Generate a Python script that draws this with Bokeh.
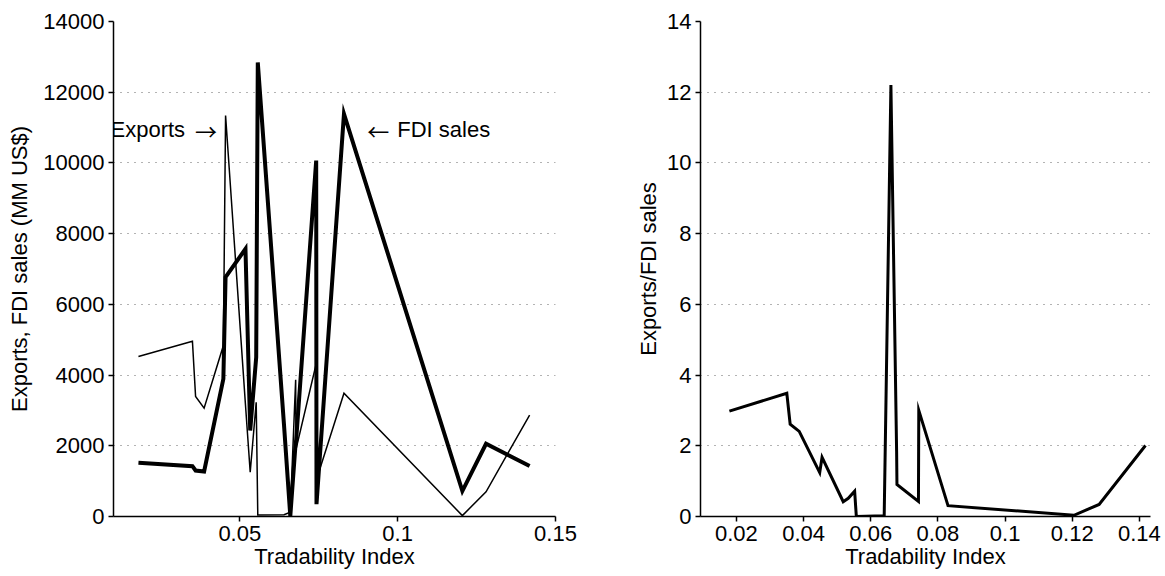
from bokeh.plotting import figure
from bokeh.layouts import row
from bokeh.models import FixedTicker, CustomJSTickFormatter, Label, Range1d
from bokeh.embed import file_html
from bokeh.resources import INLINE

# ---- data ----
tradability = [0.0179, 0.0350, 0.0360, 0.0387, 0.0448, 0.0455, 0.0518, 0.0533,
               0.0552, 0.0557, 0.0640, 0.0660, 0.0677, 0.0678, 0.0742, 0.0743,
               0.0830, 0.1205, 0.1280, 0.1418]
exports = [4525, 4958, 3394, 3063, 4836, 11340, 3160, 1253,
           3232, 40, 50, 122, 3866, 1900, 4318, 1050,
           3487, 25, 700, 2870]
fdi_sales = [1518, 1423, 1300, 1273, 3893, 6768, 7570, 2432,
             4505, 12840, 2600, 10, 2095, 2095, 10068, 350,
             11388, 720, 2056, 1430]
ratio = [e / f for e, f in zip(exports, fdi_sales)]

left_xticks = [0.05, 0.1, 0.15]
left_yticks = [0, 2000, 4000, 6000, 8000, 10000, 12000, 14000]
right_xticks = [0.02, 0.04, 0.06, 0.08, 0.1, 0.12, 0.14]
right_yticks = [0, 2, 4, 6, 8, 10, 12, 14]

FONT = "Liberation Sans"
ARROW_FONT = "Noto Sans CJK JP"
FS = "22px"
FMT = "return String(Math.round(tick*100000)/100000);"


def style(p, xticks, yticks, ylabel_standoff):
    p.xaxis.ticker = FixedTicker(ticks=xticks)
    p.yaxis.ticker = FixedTicker(ticks=yticks)
    p.xaxis.formatter = CustomJSTickFormatter(code=FMT)
    p.yaxis.formatter = CustomJSTickFormatter(code=FMT)
    p.xgrid.visible = False
    p.ygrid.grid_line_dash = "1 6"
    p.ygrid.grid_line_color = "#666666"
    p.ygrid.grid_line_width = 1
    p.outline_line_color = None
    p.background_fill_color = "white"
    p.border_fill_color = "white"
    for ax in (p.xaxis[0], p.yaxis[0]):
        ax.axis_line_color = "black"
        ax.axis_line_width = 1.5
        ax.major_tick_line_color = "black"
        ax.major_tick_line_width = 1.5
        ax.major_tick_out = 5
        ax.major_tick_in = 0
        ax.minor_tick_out = 0
        ax.minor_tick_in = 0
        ax.major_label_text_font = FONT
        ax.major_label_text_font_size = FS
        ax.major_label_text_color = "black"
        ax.major_label_standoff = 4
        ax.axis_label_text_font = FONT
        ax.axis_label_text_font_size = FS
        ax.axis_label_text_font_style = "normal"
        ax.axis_label_text_color = "black"
    p.xaxis.axis_label_standoff = 0
    p.yaxis.axis_label_standoff = ylabel_standoff


def add_text(p, x, y, text, font):
    p.add_layout(Label(x=x, y=y, text=text, text_font=font, text_font_size=FS,
                       text_baseline="middle", text_align="left", text_color="black"))


left = figure(width=582, height=576, output_backend="svg", toolbar_location=None,
              x_range=Range1d(0.01, 0.15), y_range=Range1d(0, 14000),
              min_border_left=113, min_border_right=27, min_border_top=21,
              min_border_bottom=60)
left.xaxis.axis_label = "Tradability Index"
left.yaxis.axis_label = "Exports, FDI sales (MM US$)"
style(left, left_xticks, left_yticks, 8)
left.line(tradability, exports, line_color="black", line_width=1.5, line_join="miter")
left.line(tradability, fdi_sales, line_color="black", line_width=4, line_join="miter")
add_text(left, 0.00906, 10945, "Exports", FONT)
add_text(left, 0.03582, 10945, "\u2192", ARROW_FONT)
add_text(left, 0.09037, 10945, "\u2190", ARROW_FONT)
add_text(left, 0.09987, 10945, "FDI sales", FONT)

right = figure(width=583, height=576, output_backend="svg", toolbar_location=None,
               x_range=Range1d(0.0093, 0.1433), y_range=Range1d(0, 14),
               min_border_left=118, min_border_right=15, min_border_top=21,
               min_border_bottom=60)
right.xaxis.axis_label = "Tradability Index"
right.yaxis.axis_label = "Exports/FDI sales"
style(right, right_xticks, right_yticks, 3)
right.line(tradability, ratio, line_color="black", line_width=3, line_join="miter")

layout = row(left, right)
open("out.html", "w").write(file_html(layout, INLINE))
